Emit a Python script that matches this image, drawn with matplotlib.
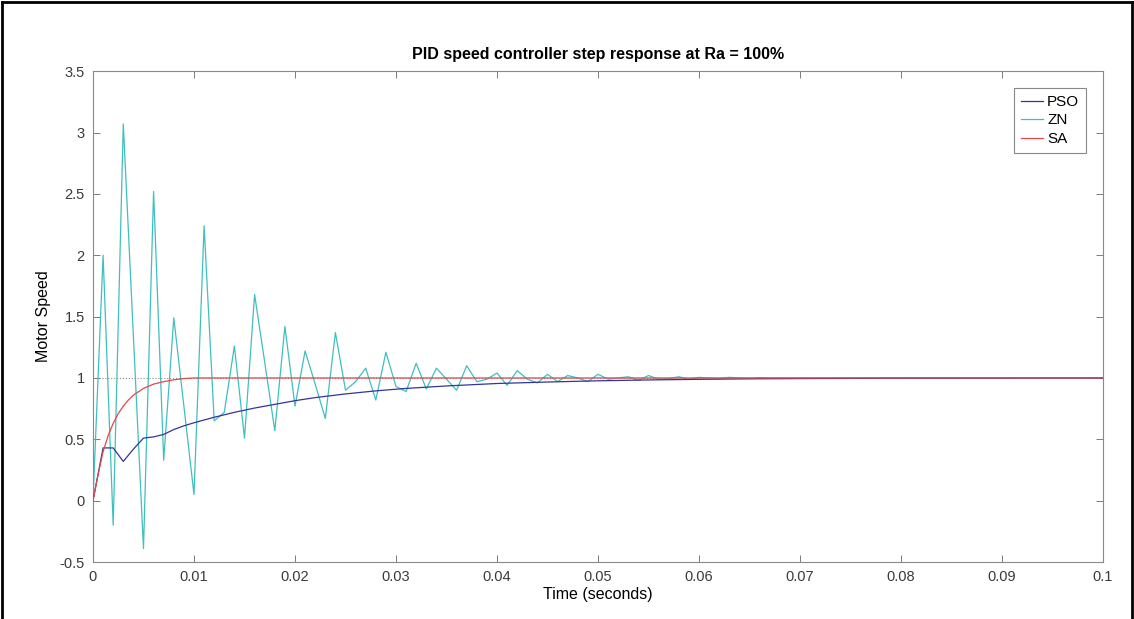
import numpy as np
import matplotlib
matplotlib.use('Agg')
import matplotlib.pyplot as plt
from matplotlib.lines import Line2D
from matplotlib.ticker import FuncFormatter, MultipleLocator

plt.rcParams['font.family'] = ['Liberation Sans', 'DejaVu Sans']

# --- data (time in seconds) ---
# ZN response, one sample every 1 ms
zn_step = 0.001
zn_speed = [0.00, 2.00, -0.20, 3.07, 1.34, -0.39, 2.52, 0.33, 1.49, 0.77,
            0.05, 2.24, 0.65, 0.72, 1.26, 0.51, 1.68, 1.13, 0.57, 1.42,
            0.77, 1.22, 0.95, 0.67, 1.37, 0.90, 0.97, 1.08, 0.82, 1.21,
            0.93, 0.89, 1.12, 0.91, 1.08, 0.99, 0.90, 1.10, 0.97, 0.99,
            1.04, 0.94, 1.06, 0.99, 0.96, 1.03, 0.97, 1.02, 1.00, 0.97,
            1.03, 0.99, 1.00, 1.01, 0.98, 1.02, 0.99, 0.995, 1.01, 0.99,
            1.005, 1.00, 0.995, 1.005, 1.00, 0.997, 1.003, 1.00]
zn_end_time = [0.1]
zn_end_speed = [1.0]

pso_time = [0.000, 0.001, 0.002, 0.003, 0.004, 0.005, 0.006, 0.007, 0.008,
            0.009, 0.010, 0.012, 0.014, 0.016, 0.018, 0.020, 0.022, 0.025,
            0.028, 0.031, 0.035, 0.040, 0.045, 0.050, 0.055, 0.060, 0.065,
            0.070, 0.080, 0.090, 0.100]
pso_speed = [0.00, 0.43, 0.43, 0.32, 0.42, 0.51, 0.52, 0.54, 0.58,
             0.61, 0.635, 0.68, 0.72, 0.755, 0.785, 0.815, 0.84, 0.87,
             0.895, 0.915, 0.935, 0.955, 0.967, 0.977, 0.984, 0.989, 0.993,
             0.995, 0.998, 0.999, 1.000]

sa_time = [0.0000, 0.0005, 0.0010, 0.0015, 0.0020, 0.0025, 0.0030, 0.0035,
           0.0040, 0.0050, 0.0060, 0.0070, 0.0080, 0.0090, 0.0100, 0.1000]
sa_speed = [0.00, 0.21, 0.40, 0.53, 0.63, 0.71, 0.77, 0.82,
            0.86, 0.915, 0.95, 0.97, 0.985, 0.995, 1.00, 1.00]

zn_time = list(np.arange(len(zn_speed)) * zn_step) + zn_end_time
zn_speed = zn_speed + zn_end_speed

# --- figure ---
fig = plt.figure(figsize=(11.34, 6.19), dpi=100)
ax = fig.add_axes([0.082, 0.092, 0.8907, 0.793])

ax.axhline(1.0, color='#8c8c8c', lw=0.8, ls=':', zorder=1)
ax.plot(pso_time, pso_speed, color='#34349a', lw=0.9, label='PSO', zorder=3)
ax.plot(zn_time, zn_speed, color='#3fbfc0', lw=0.9, label='ZN', zorder=2)
ax.plot(sa_time, sa_speed, color='#e0484a', lw=0.9, label='SA', zorder=4)

ax.set_xlim(0, 0.1)
ax.set_ylim(-0.5, 3.5)
ax.xaxis.set_major_locator(MultipleLocator(0.01))
ax.yaxis.set_major_locator(MultipleLocator(0.5))
fmt = FuncFormatter(lambda v, p: '%g' % round(v, 3))
ax.xaxis.set_major_formatter(fmt)
ax.yaxis.set_major_formatter(fmt)

ax.tick_params(direction='in', top=True, right=True, length=5, width=0.7,
               color='#7a7a7a', labelcolor='#3a3a3a', labelsize=10.5, pad=6)
for s in ax.spines.values():
    s.set_color('#8a8a8a')
    s.set_linewidth(0.8)

ax.set_title('PID speed controller step response at Ra = 100%',
             fontsize=11.5, fontweight='bold', pad=9)
ax.set_xlabel('Time (seconds)', fontsize=11.5, labelpad=2)
ax.set_ylabel('Motor Speed', fontsize=11.5, labelpad=6)

leg = ax.legend(loc='upper right', fontsize=11, frameon=True, fancybox=False,
                handlelength=1.5, handletextpad=0.25, borderpad=0.45,
                labelspacing=0.3, borderaxespad=1.1)
leg.get_frame().set_edgecolor('#6a6a6a')
leg.get_frame().set_linewidth(0.8)

# black frame around the image (left, top, right)
for xs, ys in [([0.002, 0.002], [0, 0.997]), ([0.002, 0.998], [0.997, 0.997]),
               ([0.998, 0.998], [0, 0.997])]:
    fig.add_artist(Line2D(xs, ys, transform=fig.transFigure, color='black', lw=2))

fig.savefig('out.png', dpi=100)
